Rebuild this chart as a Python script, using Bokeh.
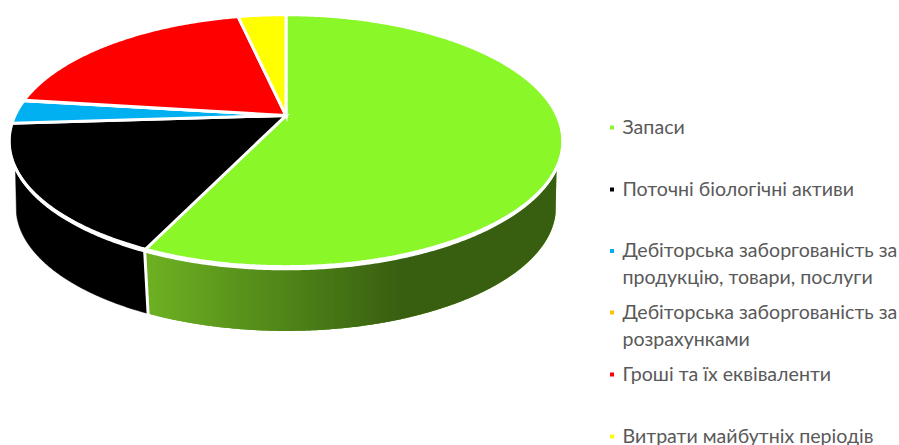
import numpy as np
from bokeh.core.properties import value
from bokeh.embed import file_html
from bokeh.models import Range1d
from bokeh.plotting import figure
from bokeh.resources import INLINE

# Current assets structure, percent of total
categories = [
    "Запаси",
    "Поточні біологічні активи",
    "Дебіторська заборгованість за продукцію, товари, послуги",
    "Дебіторська заборгованість за розрахунками",
    "Гроші та їх еквіваленти",
    "Витрати майбутніх періодів",
]
shares = [57.0, 17.0, 3.0, 0.05, 19.55, 3.4]
colors = ["#8AF729", "#000000", "#00B0F0", "#FFC000", "#FF0000", "#FFFF00"]
legend_lines = [
    ["Запаси"],
    ["Поточні біологічні активи"],
    ["Дебіторська заборгованість за", "продукцію, товари, послуги"],
    ["Дебіторська заборгованість за", "розрахунками"],
    ["Гроші та їх еквіваленти"],
    ["Витрати майбутніх періодів"],
]

# Perspective model of the disc: apex position, half axes, tilt strength
CX, CY = 285.5, 115.0
AX, BY, K = 271.0, 121.3, 0.2032
# The lower rim is slightly smaller and sits lower
BASE_SCALE, BASE_DROP = 0.975, 67.0
EDGE_TOP, EDGE_BASE = np.radians(113.4), np.radians(104.4)
# Half thickness of the white band added along the front of the rim
FRONT_BAND = 1.6


def rim(t, scale=1.0, drop=0.0):
    w = 1 + K * np.cos(t)
    return (CX + scale * AX * np.sin(t) / w,
            CY + drop + scale * BY * -np.cos(t) / w)


def arc(a0, a1, scale=1.0, drop=0.0):
    n = max(2, int(abs(a1 - a0) / np.radians(0.5)))
    return rim(np.linspace(a0, a1, n), scale, drop)


def wall(a0, a1, b0, b1):
    tx, ty = arc(a0, a1)
    bx, by = arc(b1, b0, BASE_SCALE, BASE_DROP)
    return list(tx) + list(bx), list(ty) + list(by)


def mix(c0, c1, f):
    f = float(np.clip(f, 0, 1))
    return "#%02x%02x%02x" % tuple(int(round(a + (b - a) * f)) for a, b in zip(c0, c1))


p = figure(width=899, height=445, output_backend="svg", toolbar_location=None,
           x_range=Range1d(0, 899), y_range=Range1d(445, 0),
           min_border=0, outline_line_color=None)
p.axis.visible = False
p.grid.visible = False

edges = np.radians(np.concatenate([[0], np.cumsum(shares)]) / sum(shares) * 360)

# Side wall of the black slice
black_start = edges[1]
xs, ys = wall(black_start, 2 * np.pi - EDGE_TOP, black_start, 2 * np.pi - EDGE_BASE)
p.patch(xs, ys, fill_color=colors[1], line_color=colors[1], line_width=0.5)

# Side wall of the green slice: flat light base, vertical shading bands, flat dark end
LIGHT, DARK = (0x6C, 0xB0, 0x22), (0x38, 0x5F, 0x10)
SHADE_FROM, SHADE_TO, BAND = 150.0, 400.0, 2.0
xs, ys = wall(edges[1], EDGE_TOP, edges[1], EDGE_BASE)
p.patch(xs, ys, fill_color=mix(LIGHT, DARK, 0), line_color=None)

sweep = np.linspace(edges[1], EDGE_TOP, 800)
sweep_b = np.linspace(edges[1], EDGE_BASE, 800)
top_x, top_y = rim(sweep)
low_x, low_y = rim(sweep_b, BASE_SCALE, BASE_DROP)
# Rim x grows monotonically along the sweep, so it can be inverted by interpolation
band_x = np.arange(SHADE_FROM, SHADE_TO + BAND, BAND)
band_top = np.interp(band_x, top_x, top_y)
band_low = np.interp(band_x, low_x, low_y)
for i in range(len(band_x) - 1):
    c = mix(LIGHT, DARK, (band_x[i] - SHADE_FROM) / (SHADE_TO - SHADE_FROM))
    p.patch([band_x[i], band_x[i + 1] + 0.6, band_x[i + 1] + 0.6, band_x[i]],
            [band_top[i], band_top[i + 1], band_low[i + 1], band_low[i]],
            fill_color=c, line_color=None)
xs, ys = wall(float(np.interp(SHADE_TO, top_x, sweep)), EDGE_TOP,
              float(np.interp(SHADE_TO, low_x, sweep_b)), EDGE_BASE)
p.patch(xs, ys, fill_color=mix(LIGHT, DARK, 1), line_color=None)

# Seam between the two wall slices
sx, sy = rim(edges[1])
bx, by = rim(edges[1], BASE_SCALE, BASE_DROP)
p.line([sx, bx], [sy, by + 1], line_color="white", line_width=3)

# Top face
for i, c in enumerate(colors):
    x, y = arc(edges[i], edges[i + 1])
    p.patch([CX] + list(x), [CY] + list(y), fill_color=c, line_color="white",
            line_width=3, line_join="miter")

# White band along the front of the rim, widest at the nearest point
front = np.linspace(np.pi / 2, 3 * np.pi / 2, 360)
fx, fy = rim(front)
spread = FRONT_BAND * np.clip(-np.cos(front), 0, 1) ** 0.7
p.patch(list(fx) + list(fx[::-1]), list(fy - spread) + list((fy + spread)[::-1]),
        fill_color="white", line_color="white", line_width=2)

# Legend
ROW_Y = [125.5, 187.5, 249, 310.5, 372.5, 434.5]
LINE_STEP = 27
for row, c, lines in zip(ROW_Y, colors, legend_lines):
    p.scatter([611.5], [row + 1.5], marker="square", size=4, fill_color=c, line_color=None)
    for j, line in enumerate(lines):
        p.text([622], [row + j * LINE_STEP], text=[line], text_color="#595959",
               text_font_size="19.6px", text_baseline="middle", text_align="left",
               text_font=value("Lato"))

open("out.html", "w").write(file_html(p, INLINE))
